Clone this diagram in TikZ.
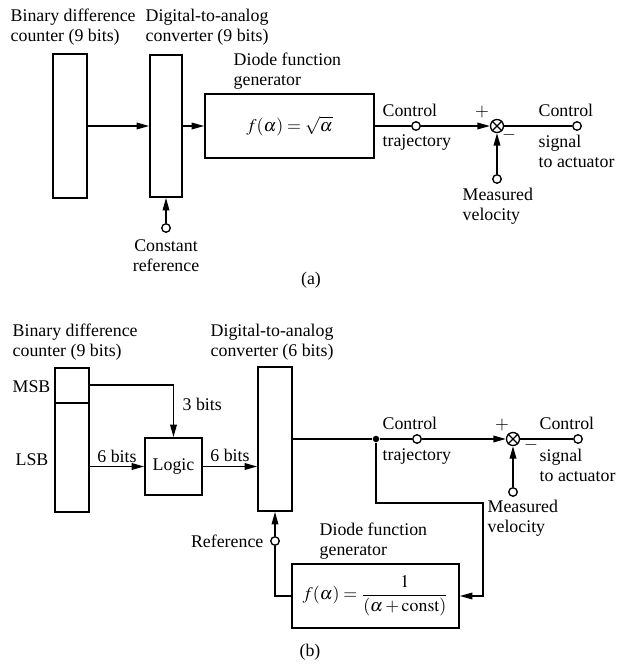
\documentclass[tikz,border=0pt]{standalone}
\usepackage{amsmath}
\usepackage{mathptmx}
\usepackage[no-math]{fontspec}
\setmainfont{Liberation Serif}
\usetikzlibrary{arrows.meta,positioning}
\newcommand{\pu}{0.6pt}

\begin{document}
\begin{tikzpicture}[x=0.6pt, y=-0.6pt, font=\fontsize{10.7}{12}\selectfont,
  >={Triangle[length=7.5pt,width=4pt]},
  blk/.style={draw, line width=1.1pt, inner sep=0},
  port/.style={draw, thick, circle, fill=white, inner sep=0, minimum size=8.5*\pu},
  jdot/.style={fill, circle, inner sep=0, minimum size=6.5*\pu},
  sum/.style={draw, thick, circle, inner sep=0, minimum size=13*\pu},
  lbl/.style={inner sep=0, align=left}]
\useasboundingbox (0,0) rectangle (621,669);
% ---------- (a) square-root trajectory ----------
\begin{scope}[thick]
  \node[blk, minimum width=34*\pu, minimum height=144*\pu] (cntA) at (70,126) {};
  \node[blk, minimum width=32*\pu, minimum height=142*\pu] (dacA) at (166,126) {};
  \node[blk, minimum width=169*\pu, minimum height=64*\pu] (dfgA) at (289.5,126)
       {$f(\alpha)=\sqrt{\alpha}$};
  \node[port] (ctA)  at (416,126) {};
  \node[sum]  (sjA)  at (497,126) {};
  \node[port] (outA) at (577,126) {};
  \node[port] (mvA)  at (497,179) {};
  \node[port] (refA) at (166,228) {};
  \draw (sjA.north east)--(sjA.south west) (sjA.north west)--(sjA.south east);
  \draw[->] (cntA) -- (dacA);
  \draw[->] (dacA) -- (dfgA);
  \draw (dfgA.east) -- (ctA);
  \draw[->] (ctA) -- (sjA);
  \draw (sjA) -- (outA);
  \draw[->] (mvA) -- (sjA);
  \draw[->] (refA) -- (dacA.south);
  % labels
  \node[lbl, anchor=west] (tCntA) at (10,27.5) {Binary difference\\counter (9 bits)};
  \node[lbl, anchor=west] (tDacA) at (145,27.5) {Digital-to-analog\\converter (9 bits)};
  \node[lbl, anchor=west] (tDfgA) at (233,71) {Diode function\\generator};
  \node[lbl, anchor=west] (tCtA1) at (382,110) {Control};
  \node[lbl, anchor=west] (tCtA2) at (382,143) {trajectory};
  \node[lbl] (tPlA) at (482,112) {$+$};
  \node[lbl] (tMiA) at (509,135) {$-$};
  \node[lbl, anchor=west] (tOutA1) at (538,110) {Control};
  \node[lbl, anchor=west] (tOutA2) at (538,151) {signal\\to actuator};
  \node[lbl, anchor=west] (tMvA) at (462,206) {Measured\\velocity};
  \node[lbl, align=center] (tRefA) at (166,256) {Constant\\reference};
  \node[lbl] (capA) at (311,280) {(a)};
\end{scope}
% ---------- (b) reciprocal trajectory ----------
\begin{scope}[thick]
  \node[blk, minimum width=34*\pu, minimum height=144*\pu] (cntB) at (72,440) {};
  \draw[line width=1.1pt] (cntB.west |- 0,403) -- (cntB.east |- 0,403);
  \node[blk, minimum width=57*\pu, minimum height=57*\pu] (logic) at (173.5,466.5) {Logic};
  \node[blk, minimum width=34*\pu, minimum height=144*\pu] (dacB) at (275,439) {};
  \node[blk, minimum width=167*\pu, minimum height=64*\pu] (dfgB) at (375.5,596)
       {$f(\alpha)=\dfrac{1}{(\alpha+\mathrm{const})}$};
  \node[jdot] (jB)   at (376,439) {};
  \node[port] (ctB)  at (417,439) {};
  \node[sum]  (sjB)  at (513,439) {};
  \node[port] (outB) at (578,439) {};
  \node[port] (mvB)  at (513,492) {};
  \node[port] (refB) at (275,541) {};
  \coordinate (msb) at (89,385);
  \coordinate (fb)  at (483,503);
  \draw (sjB.north east)--(sjB.south west) (sjB.north west)--(sjB.south east);
  \draw[->] (msb) -| (logic.north);
  \draw[->] (cntB.east |- logic.west) -- (logic.west);
  \draw[->] (logic.east) -- (logic.east -| dacB.west);
  \draw (dacB.east |- jB) -- (jB) -- (ctB);
  \draw[->] (ctB) -- (sjB);
  \draw (sjB) -- (outB);
  \draw[->] (mvB) -- (sjB);
  \draw[->] (jB) |- (fb) |- (dfgB.east);
  \draw (dfgB.west) -| (refB);
  \draw[->] (refB) -- (dacB.south);
  % labels
  \node[lbl, anchor=west] (tCntB) at (12,342.5) {Binary difference\\counter (9 bits)};
  \node[lbl, anchor=west] (tDacB) at (210,342.5) {Digital-to-analog\\converter (6 bits)};
  \node[lbl, anchor=west] (tMsb) at (12,387) {MSB};
  \node[lbl, anchor=west] (tLsb) at (15,460) {LSB};
  \node[lbl, anchor=west] (t3b) at (182,404) {3 bits};
  \node[lbl] (t6b1) at (117,456) {6 bits};
  \node[lbl] (t6b2) at (230,455) {6 bits};
  \node[lbl, anchor=west] (tCtB1) at (382,423) {Control};
  \node[lbl, anchor=west] (tCtB2) at (382,457) {trajectory};
  \node[lbl] (tPlB) at (502,425) {$+$};
  \node[lbl] (tMiB) at (531,445) {$-$};
  \node[lbl, anchor=west] (tOutB1) at (539,423) {Control};
  \node[lbl, anchor=west] (tOutB2) at (539,465.5) {signal\\to actuator};
  \node[lbl, anchor=west] (tMvB) at (487,518) {Measured\\velocity};
  \node[lbl, anchor=east] (tRefB) at (264,541) {Reference};
  \node[lbl, anchor=west] (tDfgB) at (319,541.5) {Diode function\\generator};
  \node[lbl] (capB) at (310,652) {(b)};
\end{scope}
\end{tikzpicture}
\end{document}
